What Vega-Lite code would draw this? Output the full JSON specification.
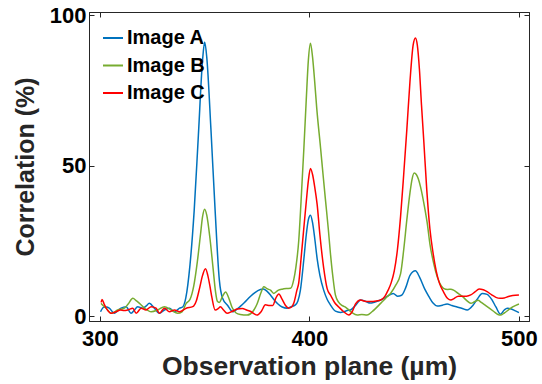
{
  "$schema": "https://vega.github.io/schema/vega-lite/v6.json",
  "width": 440,
  "height": 309,
  "autosize": {"type": "none"},
  "padding": {"left": 89, "top": 12, "right": 13, "bottom": 63},
  "background": "white",
  "config": {
    "view": {"stroke": "#262626", "strokeWidth": 1},
    "font": "Liberation Sans"
  },
  "data": {"values": [
{"s":"Image A","x":300.3,"y":1.4},{"s":"Image A","x":301.8,"y":2.9},{"s":"Image A","x":303.2,"y":3.0},{"s":"Image A","x":304.5,"y":2.6},{"s":"Image A","x":306.9,"y":0.9},{"s":"Image A","x":308.5,"y":1.8},{"s":"Image A","x":310.1,"y":2.6},{"s":"Image A","x":312.5,"y":3.1},{"s":"Image A","x":314.9,"y":0.9},{"s":"Image A","x":316.5,"y":2.0},{"s":"Image A","x":318,"y":3.1},{"s":"Image A","x":320.4,"y":2.6},{"s":"Image A","x":322,"y":3.3},{"s":"Image A","x":323.6,"y":4.2},{"s":"Image A","x":326,"y":2.6},{"s":"Image A","x":328.4,"y":0.9},{"s":"Image A","x":330.8,"y":2.0},{"s":"Image A","x":333.2,"y":2.6},{"s":"Image A","x":335.6,"y":1.4},{"s":"Image A","x":338,"y":2.6},{"s":"Image A","x":339.5,"y":3},{"s":"Image A","x":341,"y":6},{"s":"Image A","x":343,"y":17},{"s":"Image A","x":345,"y":35},{"s":"Image A","x":347,"y":60},{"s":"Image A","x":349,"y":85},{"s":"Image A","x":350,"y":91},{"s":"Image A","x":351,"y":86},{"s":"Image A","x":353,"y":62},{"s":"Image A","x":355,"y":35},{"s":"Image A","x":357,"y":12},{"s":"Image A","x":358.5,"y":6},{"s":"Image A","x":361,"y":3.5},{"s":"Image A","x":363.5,"y":1.4},{"s":"Image A","x":365,"y":2},{"s":"Image A","x":367,"y":3.2},{"s":"Image A","x":369,"y":4.5},{"s":"Image A","x":371.8,"y":6.5},{"s":"Image A","x":374,"y":7.8},{"s":"Image A","x":376.6,"y":8.8},{"s":"Image A","x":378,"y":9},{"s":"Image A","x":379.8,"y":8.2},{"s":"Image A","x":381.4,"y":7},{"s":"Image A","x":383,"y":5.5},{"s":"Image A","x":385,"y":4},{"s":"Image A","x":387,"y":3},{"s":"Image A","x":389.4,"y":2.6},{"s":"Image A","x":391,"y":3},{"s":"Image A","x":393.3,"y":3.7},{"s":"Image A","x":394.5,"y":5},{"s":"Image A","x":395.7,"y":8.6},{"s":"Image A","x":397.3,"y":18.6},{"s":"Image A","x":398.5,"y":27},{"s":"Image A","x":399.5,"y":32},{"s":"Image A","x":400.5,"y":33.5},{"s":"Image A","x":401.5,"y":31},{"s":"Image A","x":402.5,"y":26},{"s":"Image A","x":403.7,"y":19},{"s":"Image A","x":405,"y":13.5},{"s":"Image A","x":406.8,"y":8.6},{"s":"Image A","x":408.5,"y":5.5},{"s":"Image A","x":410,"y":3.7},{"s":"Image A","x":412.4,"y":1.6},{"s":"Image A","x":414.8,"y":1.2},{"s":"Image A","x":416.4,"y":1.4},{"s":"Image A","x":418,"y":1.8},{"s":"Image A","x":419.6,"y":2},{"s":"Image A","x":422,"y":3.5},{"s":"Image A","x":424.4,"y":5.3},{"s":"Image A","x":427,"y":4.8},{"s":"Image A","x":429,"y":4.3},{"s":"Image A","x":431,"y":4.6},{"s":"Image A","x":434,"y":5.3},{"s":"Image A","x":437,"y":6.5},{"s":"Image A","x":440,"y":7.5},{"s":"Image A","x":442,"y":6.6},{"s":"Image A","x":444,"y":6.9},{"s":"Image A","x":446,"y":9.5},{"s":"Image A","x":448,"y":13.5},{"s":"Image A","x":450.6,"y":15},{"s":"Image A","x":452.5,"y":13},{"s":"Image A","x":455,"y":9},{"s":"Image A","x":457,"y":6.5},{"s":"Image A","x":459,"y":4.3},{"s":"Image A","x":461,"y":3.3},{"s":"Image A","x":463.5,"y":3.6},{"s":"Image A","x":465.7,"y":4},{"s":"Image A","x":468,"y":3.5},{"s":"Image A","x":470.5,"y":3},{"s":"Image A","x":473,"y":2.5},{"s":"Image A","x":475.3,"y":2},{"s":"Image A","x":478,"y":3.5},{"s":"Image A","x":480,"y":5.5},{"s":"Image A","x":482.5,"y":7.5},{"s":"Image A","x":484.8,"y":7.2},{"s":"Image A","x":487,"y":5.5},{"s":"Image A","x":489,"y":3},{"s":"Image A","x":491.2,"y":0.6},{"s":"Image A","x":493,"y":2},{"s":"Image A","x":494.4,"y":2.6},{"s":"Image A","x":496,"y":2.4},{"s":"Image A","x":498,"y":1.8},{"s":"Image A","x":500,"y":1.1},
{"s":"Image B","x":300.6,"y":4.2},{"s":"Image B","x":301.5,"y":3.5},{"s":"Image B","x":303,"y":2.6},{"s":"Image B","x":305.4,"y":0.9},{"s":"Image B","x":308.5,"y":2},{"s":"Image B","x":311.7,"y":2.6},{"s":"Image B","x":313.5,"y":4},{"s":"Image B","x":315.7,"y":5.9},{"s":"Image B","x":317.5,"y":5},{"s":"Image B","x":318.9,"y":4.2},{"s":"Image B","x":321.3,"y":2.6},{"s":"Image B","x":324.5,"y":1.4},{"s":"Image B","x":327.6,"y":2},{"s":"Image B","x":330.8,"y":3.1},{"s":"Image B","x":334,"y":2},{"s":"Image B","x":337.1,"y":0.9},{"s":"Image B","x":339.2,"y":1.4},{"s":"Image B","x":341.2,"y":4.2},{"s":"Image B","x":343,"y":5.5},{"s":"Image B","x":344.8,"y":10},{"s":"Image B","x":346.5,"y":18},{"s":"Image B","x":348,"y":27},{"s":"Image B","x":349,"y":33},{"s":"Image B","x":350,"y":35.5},{"s":"Image B","x":351,"y":33.5},{"s":"Image B","x":352.5,"y":26},{"s":"Image B","x":354,"y":16},{"s":"Image B","x":355.2,"y":8},{"s":"Image B","x":356,"y":5},{"s":"Image B","x":357,"y":4.5},{"s":"Image B","x":358.5,"y":6.5},{"s":"Image B","x":360,"y":8},{"s":"Image B","x":361.5,"y":6},{"s":"Image B","x":363,"y":3},{"s":"Image B","x":365,"y":1},{"s":"Image B","x":367,"y":0.5},{"s":"Image B","x":370.3,"y":0.3},{"s":"Image B","x":373,"y":1.5},{"s":"Image B","x":375,"y":4},{"s":"Image B","x":377,"y":8},{"s":"Image B","x":378.2,"y":9.7},{"s":"Image B","x":380,"y":9},{"s":"Image B","x":381.4,"y":8.6},{"s":"Image B","x":383,"y":7.5},{"s":"Image B","x":385,"y":8.5},{"s":"Image B","x":387,"y":8.9},{"s":"Image B","x":389,"y":9.1},{"s":"Image B","x":391,"y":9.2},{"s":"Image B","x":392.5,"y":12},{"s":"Image B","x":393.5,"y":16},{"s":"Image B","x":394.9,"y":25},{"s":"Image B","x":396,"y":38},{"s":"Image B","x":397.3,"y":55},{"s":"Image B","x":398.5,"y":72},{"s":"Image B","x":399.5,"y":85},{"s":"Image B","x":400.5,"y":90.6},{"s":"Image B","x":401.5,"y":86},{"s":"Image B","x":402.5,"y":78},{"s":"Image B","x":403.5,"y":69},{"s":"Image B","x":405.3,"y":56},{"s":"Image B","x":406.5,"y":47},{"s":"Image B","x":407.6,"y":39},{"s":"Image B","x":409,"y":29},{"s":"Image B","x":410,"y":21},{"s":"Image B","x":411.2,"y":13},{"s":"Image B","x":412.4,"y":7},{"s":"Image B","x":414,"y":4.5},{"s":"Image B","x":415.5,"y":3.5},{"s":"Image B","x":417,"y":3},{"s":"Image B","x":418.5,"y":2.2},{"s":"Image B","x":420.5,"y":1},{"s":"Image B","x":422.8,"y":0.3},{"s":"Image B","x":425,"y":0.5},{"s":"Image B","x":427.5,"y":0.3},{"s":"Image B","x":430,"y":1.5},{"s":"Image B","x":434,"y":4.2},{"s":"Image B","x":436.5,"y":6},{"s":"Image B","x":438.7,"y":7.5},{"s":"Image B","x":441,"y":10},{"s":"Image B","x":443.5,"y":14},{"s":"Image B","x":445,"y":22},{"s":"Image B","x":446.5,"y":32},{"s":"Image B","x":448,"y":41},{"s":"Image B","x":449,"y":45.5},{"s":"Image B","x":450,"y":47.5},{"s":"Image B","x":451,"y":47},{"s":"Image B","x":452,"y":45.5},{"s":"Image B","x":453,"y":43},{"s":"Image B","x":455,"y":36},{"s":"Image B","x":456.2,"y":31},{"s":"Image B","x":457.5,"y":24},{"s":"Image B","x":459.3,"y":17.5},{"s":"Image B","x":461,"y":13},{"s":"Image B","x":462.5,"y":10.5},{"s":"Image B","x":464,"y":9.2},{"s":"Image B","x":466,"y":8.8},{"s":"Image B","x":467.5,"y":8.9},{"s":"Image B","x":469,"y":8.5},{"s":"Image B","x":471,"y":7.5},{"s":"Image B","x":473,"y":6.5},{"s":"Image B","x":475,"y":5.2},{"s":"Image B","x":477,"y":4.2},{"s":"Image B","x":479,"y":4.8},{"s":"Image B","x":480.5,"y":5.2},{"s":"Image B","x":482,"y":4.5},{"s":"Image B","x":484,"y":3.5},{"s":"Image B","x":486,"y":2.5},{"s":"Image B","x":488,"y":1.5},{"s":"Image B","x":490,"y":0.5},{"s":"Image B","x":491.2,"y":0.3},{"s":"Image B","x":493,"y":1},{"s":"Image B","x":495,"y":2},{"s":"Image B","x":497,"y":3},{"s":"Image B","x":500,"y":4},
{"s":"Image C","x":300.6,"y":4.5},{"s":"Image C","x":301,"y":5.5},{"s":"Image C","x":302,"y":4},{"s":"Image C","x":303,"y":2.6},{"s":"Image C","x":305.4,"y":0.9},{"s":"Image C","x":307.7,"y":1.4},{"s":"Image C","x":309.8,"y":2},{"s":"Image C","x":311.5,"y":1.8},{"s":"Image C","x":313.3,"y":2},{"s":"Image C","x":315.7,"y":2.6},{"s":"Image C","x":317.3,"y":0.9},{"s":"Image C","x":319.7,"y":2.6},{"s":"Image C","x":322,"y":2},{"s":"Image C","x":324.5,"y":3.1},{"s":"Image C","x":326.8,"y":2.6},{"s":"Image C","x":328.4,"y":0.9},{"s":"Image C","x":330.8,"y":2.6},{"s":"Image C","x":333.2,"y":1.4},{"s":"Image C","x":335.6,"y":2},{"s":"Image C","x":338,"y":1.4},{"s":"Image C","x":341.2,"y":2.6},{"s":"Image C","x":344.3,"y":3.1},{"s":"Image C","x":346,"y":5},{"s":"Image C","x":347.5,"y":9},{"s":"Image C","x":349,"y":13.5},{"s":"Image C","x":350.4,"y":15.7},{"s":"Image C","x":351.5,"y":13.5},{"s":"Image C","x":352.5,"y":10},{"s":"Image C","x":353.5,"y":6},{"s":"Image C","x":355,"y":2},{"s":"Image C","x":356.5,"y":2.5},{"s":"Image C","x":357.5,"y":3.1},{"s":"Image C","x":359,"y":2},{"s":"Image C","x":360.7,"y":0.9},{"s":"Image C","x":363,"y":1.5},{"s":"Image C","x":365.5,"y":2.3},{"s":"Image C","x":368,"y":2.5},{"s":"Image C","x":370,"y":2},{"s":"Image C","x":372,"y":1.5},{"s":"Image C","x":373.5,"y":0.8},{"s":"Image C","x":375,"y":0.3},{"s":"Image C","x":377,"y":1.5},{"s":"Image C","x":379,"y":3.7},{"s":"Image C","x":381,"y":3.5},{"s":"Image C","x":382.5,"y":3.5},{"s":"Image C","x":384,"y":6},{"s":"Image C","x":385.4,"y":7.3},{"s":"Image C","x":387,"y":5.5},{"s":"Image C","x":388.6,"y":3.5},{"s":"Image C","x":390,"y":2.6},{"s":"Image C","x":391.5,"y":3},{"s":"Image C","x":392.5,"y":4.2},{"s":"Image C","x":394,"y":8.5},{"s":"Image C","x":394.9,"y":11},{"s":"Image C","x":396,"y":19},{"s":"Image C","x":397.3,"y":29},{"s":"Image C","x":398.5,"y":38},{"s":"Image C","x":399.5,"y":45},{"s":"Image C","x":400.5,"y":49},{"s":"Image C","x":401.5,"y":47},{"s":"Image C","x":402.5,"y":43},{"s":"Image C","x":403.7,"y":37},{"s":"Image C","x":405,"y":27},{"s":"Image C","x":406.8,"y":16},{"s":"Image C","x":408.5,"y":9},{"s":"Image C","x":410,"y":7},{"s":"Image C","x":412,"y":4.5},{"s":"Image C","x":414,"y":3},{"s":"Image C","x":416.4,"y":1.4},{"s":"Image C","x":418.8,"y":0.3},{"s":"Image C","x":420.5,"y":1.5},{"s":"Image C","x":422,"y":4},{"s":"Image C","x":424.4,"y":5.3},{"s":"Image C","x":427,"y":4.8},{"s":"Image C","x":429,"y":4.8},{"s":"Image C","x":432,"y":5},{"s":"Image C","x":434,"y":5.3},{"s":"Image C","x":436,"y":6.5},{"s":"Image C","x":437.5,"y":8.5},{"s":"Image C","x":439,"y":11},{"s":"Image C","x":440.5,"y":15},{"s":"Image C","x":442,"y":22},{"s":"Image C","x":443.5,"y":33},{"s":"Image C","x":445,"y":47},{"s":"Image C","x":446.5,"y":62},{"s":"Image C","x":448,"y":78},{"s":"Image C","x":449.5,"y":90},{"s":"Image C","x":450.6,"y":92.4},{"s":"Image C","x":451.5,"y":90},{"s":"Image C","x":452.5,"y":82},{"s":"Image C","x":453.5,"y":70},{"s":"Image C","x":454.6,"y":58},{"s":"Image C","x":456,"y":42},{"s":"Image C","x":457.5,"y":29},{"s":"Image C","x":459,"y":21},{"s":"Image C","x":460.5,"y":15},{"s":"Image C","x":462,"y":11},{"s":"Image C","x":464,"y":8},{"s":"Image C","x":466,"y":5.8},{"s":"Image C","x":467.5,"y":5.3},{"s":"Image C","x":469,"y":5.8},{"s":"Image C","x":471,"y":6.6},{"s":"Image C","x":473,"y":6.6},{"s":"Image C","x":475,"y":6.6},{"s":"Image C","x":477,"y":7},{"s":"Image C","x":479,"y":8},{"s":"Image C","x":481,"y":9},{"s":"Image C","x":483,"y":8.7},{"s":"Image C","x":485,"y":8},{"s":"Image C","x":487,"y":7},{"s":"Image C","x":489,"y":6.2},{"s":"Image C","x":491,"y":5.9},{"s":"Image C","x":493,"y":6},{"s":"Image C","x":495,"y":6.5},{"s":"Image C","x":497,"y":6.8},{"s":"Image C","x":500,"y":7}
  ]},
  "layer": [
    {
      "mark": {"type": "line", "strokeWidth": 1.5, "interpolate": "monotone", "clip": true},
      "encoding": {
        "x": {
          "field": "x", "type": "quantitative",
          "scale": {"domain": [294.8, 504.8], "nice": false, "zero": false},
          "axis": {
            "values": [300, 400, 500], "grid": false, "tickSize": -5,
            "tickColor": "#262626", "domainColor": "#262626",
            "labelFontSize": 22, "labelFontWeight": "bold", "labelColor": "#000000",
            "labelPadding": 12, "labelFlush": false,
            "title": "Observation plane (µm)", "titleFontSize": 26.5, "titleFontWeight": "bold",
            "titleColor": "#262626", "titlePadding": 4
          }
        },
        "y": {
          "field": "y", "type": "quantitative",
          "scale": {"domain": [-1.66, 101], "nice": false, "zero": false},
          "axis": {
            "values": [0, 50, 100], "grid": false, "tickSize": -5,
            "tickColor": "#262626", "domainColor": "#262626",
            "labelFontSize": 22, "labelFontWeight": "bold", "labelColor": "#000000",
            "labelPadding": 8, "labelFlush": false,
            "title": "Correlation (%)", "titleFontSize": 25, "titleFontWeight": "bold",
            "titleColor": "#262626", "titlePadding": 11
          }
        },
        "color": {
          "field": "s", "type": "nominal",
          "scale": {"domain": ["Image A", "Image B", "Image C"], "range": ["#0072BD", "#77AC30", "#FF0000"]},
          "legend": {
            "title": null, "orient": "none", "legendX": 13, "legendY": 15,
            "symbolType": "stroke", "symbolSize": 400, "symbolStrokeWidth": 2,
            "labelFontSize": 20, "labelFontWeight": "bold", "labelColor": "#000000",
            "labelOffset": 3, "rowPadding": 6.5, "padding": 0
          }
        }
      }
    },
    {
      "mark": {"type": "point", "opacity": 0},
      "encoding": {
        "x": {"field": "x", "type": "quantitative",
          "axis": {"orient": "top", "values": [300, 400, 500], "grid": false, "tickSize": -5, "labels": false, "title": null, "tickColor": "#262626", "domainColor": "#262626"}},
        "y": {"field": "y", "type": "quantitative",
          "axis": {"orient": "right", "values": [0, 50, 100], "grid": false, "tickSize": -5, "labels": false, "title": null, "tickColor": "#262626", "domainColor": "#262626"}}
      }
    }
  ],
  "resolve": {"axis": {"x": "independent", "y": "independent"}}
}
